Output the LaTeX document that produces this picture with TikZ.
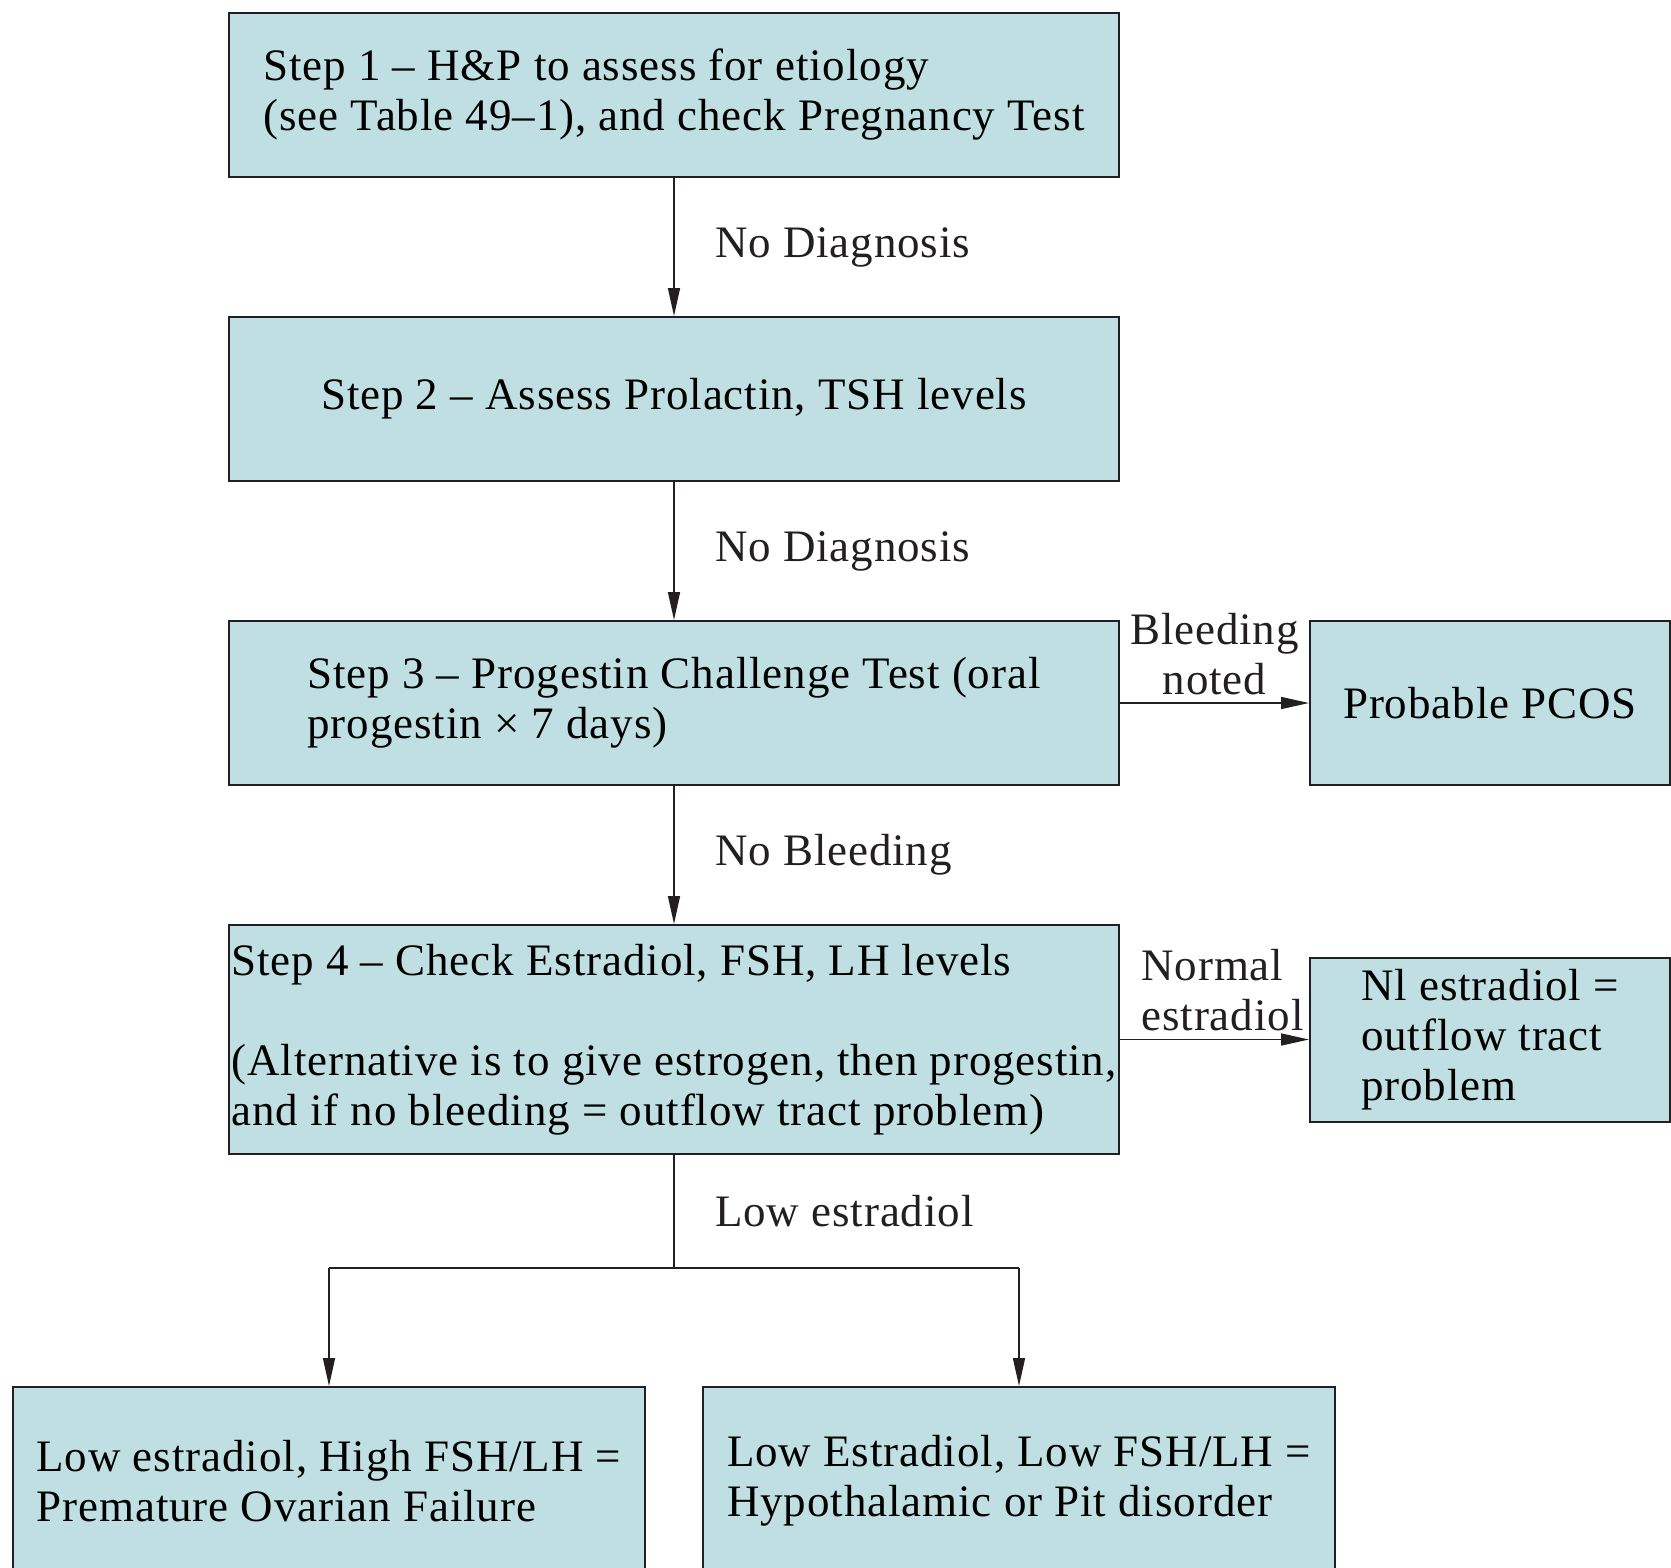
\documentclass[tikz,border=0pt]{standalone}
\usepackage{fontspec}
\setmainfont{Liberation Serif}[LetterSpace=2]
\usepackage{tikz}
\usetikzlibrary{arrows.meta, positioning}
\usepackage{xcolor}
\definecolor{boxfill}{RGB}{191,223,226}
\definecolor{ink}{RGB}{35,31,32}

\begin{document}
\begin{tikzpicture}[
    node distance=138pt,
    box/.style={rectangle, draw=ink, line width=2pt, fill=boxfill, minimum width=890pt, minimum height=164pt, align=left, inner sep=0pt, font=\fontsize{45}{50}\selectfont},
    sidebox/.style={box, minimum width=360pt},
    endbox/.style={box, minimum width=632pt, minimum height=188pt},
    lbl/.style={font=\fontsize{45}{50}\selectfont, text=ink},
    arrow/.style={-{Triangle[length=28pt,width=12pt]}, line width=1.5pt, draw=ink}
]
    \useasboundingbox (0,0) rectangle (1671pt,-1567pt);

    % Schritte
    \node[box] (step1) at (674pt,-95pt) {Step 1 -- H\&P to assess for etiology\\(see Table 49--1), and check Pregnancy Test};
    \node[box, below=of step1] (step2) {Step 2 -- Assess Prolactin, TSH levels};
    \node[box, below=of step2] (step3) {Step 3 -- Progestin Challenge Test (oral\\progestin × 7 days)};
    \node[box, below=of step3, minimum height=229pt] (step4) {Step 4 -- Check Estradiol, FSH, LH levels\\[50pt](Alternative is to give estrogen, then progestin,\\and if no bleeding = outflow tract problem)};

    % Seitenboxen
    \node[sidebox, right=189pt of step3] (pcos) {Probable PCOS};
    \node[sidebox, right=189pt of step4] (outflow) {Nl estradiol =\\outflow tract\\problem};

    % Verzweigung
    \coordinate[below=113pt of step4] (split);
    \node[endbox, below left=118pt and 28pt of split] (pof) {Low estradiol, High FSH/LH =\\Premature Ovarian Failure};
    \node[endbox, below right=118pt and 28pt of split] (hypo) {Low Estradiol, Low FSH/LH =\\Hypothalamic or Pit disorder};

    % Pfeile
    \draw[arrow] (step1) -- node[lbl, right=37pt] {No Diagnosis} (step2);
    \draw[arrow] (step2) -- node[lbl, right=37pt] {No Diagnosis} (step3);
    \draw[arrow] (step3) -- node[lbl, right=37pt] {No Bleeding} (step4);
    \draw[arrow] (step3) -- node[lbl, above=4pt, align=center] {Bleeding\\noted} (pcos);
    \draw[arrow] (step4) -- node[lbl, above=4pt, xshift=8pt, align=left] {Normal\\estradiol} (outflow);
    \draw[line width=1.5pt, draw=ink] (step4) -- node[lbl, right=37pt] {Low estradiol} (split);
    \draw[line width=1.5pt, draw=ink] (pof.north |- split) -- (hypo.north |- split);
    \draw[arrow] (pof.north |- split) -- (pof.north);
    \draw[arrow] (hypo.north |- split) -- (hypo.north);
\end{tikzpicture}
\end{document}
